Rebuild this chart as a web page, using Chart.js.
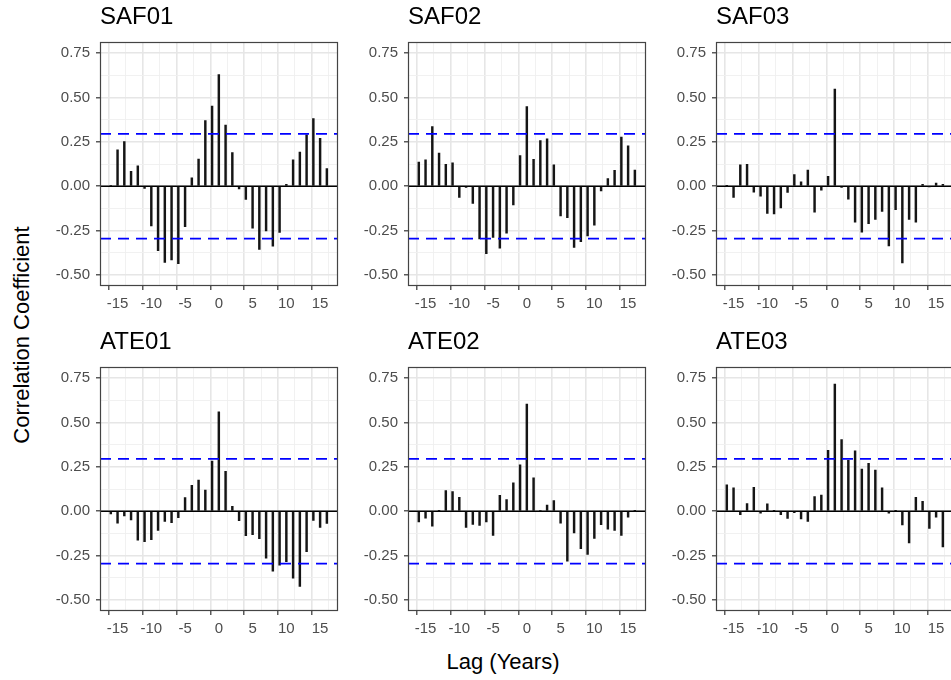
<!DOCTYPE html>
<html>
<head>
<meta charset="utf-8">
<script src="https://cdn.jsdelivr.net/npm/chart.js@4.4.1/dist/chart.umd.min.js"></script>
<style>
  body { margin: 0; background: #fff; }
  #page {
    position: relative; width: 951px; height: 680px; overflow: hidden;
    font-family: "Liberation Sans", Arial, Helvetica, sans-serif; color: #000;
  }
  #page canvas { position: absolute; }
  .ylab {
    position: absolute; left: 22px; top: 335px; font-size: 22px; white-space: nowrap;
    transform: translate(-50%, -50%) rotate(-90deg);
  }
  .xlab {
    position: absolute; left: 503px; top: 662px; font-size: 22px; white-space: nowrap;
    transform: translate(-50%, -50%);
  }
</style>
</head>
<body>
<div id="page">
  <div class="ylab">Correlation Coefficient</div>
  <div class="xlab">Lag (Years)</div>
</div>
<script>
// --- data ---
const lags = [-16, -15, -14, -13, -12, -11, -10, -9, -8, -7, -6, -5, -4, -3, -2, -1,
  0, 1, 2, 3, 4, 5, 6, 7, 8, 9, 10, 11, 12, 13, 14, 15, 16];

const saf01 = [0.005, 0.205, 0.252, 0.084, 0.114, -0.013, -0.224, -0.364, -0.429, -0.416, -0.437, -0.228, 0.047, 0.153, 0.369, 0.451,
  0.629, 0.345, 0.190, -0.015, -0.075, -0.237, -0.356, -0.252, -0.338, -0.261, 0.011, 0.149, 0.192, 0.289, 0.381, 0.269, 0.099];
const saf02 = [0.136, 0.149, 0.336, 0.187, 0.123, 0.132, -0.063, -0.007, -0.097, -0.297, -0.381, -0.289, -0.349, -0.265, -0.106, 0.172,
  0.448, 0.151, 0.257, 0.267, 0.121, -0.168, -0.177, -0.345, -0.313, -0.280, -0.220, -0.026, 0.043, 0.090, 0.276, 0.228, 0.091];
const saf03 = [0.002, -0.063, 0.121, 0.123, -0.034, -0.056, -0.153, -0.157, -0.123, -0.035, 0.065, 0.024, 0.091, -0.146, -0.022, 0.056,
  0.547, -0.007, -0.073, -0.203, -0.259, -0.211, -0.187, -0.142, -0.336, -0.132, -0.433, -0.188, -0.203, 0.011, -0.003, 0.017, 0.010];
const ate01 = [-0.015, -0.067, -0.026, -0.049, -0.164, -0.172, -0.160, -0.108, -0.058, -0.065, -0.037, 0.076, 0.146, 0.175, 0.119, 0.282,
  0.560, 0.224, 0.028, -0.054, -0.138, -0.132, -0.155, -0.265, -0.338, -0.304, -0.285, -0.377, -0.424, -0.228, -0.052, -0.091, -0.069];
const ate02 = [-0.060, -0.039, -0.084, 0.002, 0.116, 0.110, 0.078, -0.091, -0.075, -0.080, -0.060, -0.136, 0.090, 0.065, 0.160, 0.261,
  0.604, 0.188, 0.005, 0.035, 0.060, -0.067, -0.282, -0.123, -0.211, -0.244, -0.153, -0.076, -0.101, -0.108, -0.136, -0.034, 0.002];
const ate03 = [0.149, 0.131, -0.019, 0.043, 0.134, -0.011, 0.041, 0.003, -0.019, -0.041, -0.009, -0.043, -0.058, 0.082, 0.091, 0.343,
  0.716, 0.403, 0.287, 0.340, 0.237, 0.269, 0.231, 0.132, -0.011, 0.003, -0.078, -0.179, 0.078, 0.056, -0.097, -0.034, -0.201];

const panelNames = ['SAF01', 'SAF02', 'SAF03', 'ATE01', 'ATE02', 'ATE03'];
const panelValues = [saf01, saf02, saf03, ate01, ate02, ate03];

const ciBound = 0.295;
const xLimits = [-17.6, 17.6];
const yLimits = [-0.5625, 0.8125];
const xTickValues = [-17.5, -15, -12.5, -10, -7.5, -5, -2.5, 0, 2.5, 5, 7.5, 10, 12.5, 15, 17.5];
const yTickValues = [-0.5, -0.375, -0.25, -0.125, 0, 0.125, 0.25, 0.375, 0.5, 0.625, 0.75];

// --- layout ---
const FONT = '"Liberation Sans", Arial, Helvetica, sans-serif';
const plotLeft = [100, 408, 716];
const plotTop = [42, 367];
const plotW = 238, plotH = 244;
const yAxisW = 60, xAxisH = 30, titleH = 42, padRight = 4;

const isMajorX = v => Math.abs(v) <= 15 && v % 5 === 0;
const isMajorY = v => Math.abs(v * 4 - Math.round(v * 4)) < 1e-9;
const tickVal = c => (c && c.tick) ? c.tick.value : 0;

// theme_bw style box round the panel
const panelBorder = {
  id: 'panelBorder',
  afterDraw(chart) {
    const { ctx, chartArea: a } = chart;
    ctx.save();
    ctx.strokeStyle = '#444444';
    ctx.lineWidth = 1.2;
    ctx.strokeRect(Math.round(a.left) + 0.5, Math.round(a.top) + 0.5,
      Math.round(a.right - a.left) - 1, Math.round(a.bottom - a.top) - 1);
    ctx.restore();
  }
};

function hline(y, color, width, dash, order) {
  return {
    type: 'line',
    data: [{ x: xLimits[0], y: y }, { x: xLimits[1], y: y }],
    borderColor: color,
    borderWidth: width,
    borderDash: dash,
    pointRadius: 0,
    fill: false,
    order: order
  };
}

const page = document.getElementById('page');

panelNames.forEach((name, i) => {
  const col = i % 3, row = Math.floor(i / 3);
  const canvas = document.createElement('canvas');
  canvas.width = yAxisW + plotW + padRight;
  canvas.height = titleH + plotH + xAxisH;
  canvas.style.left = (plotLeft[col] - yAxisW) + 'px';
  canvas.style.top = (plotTop[row] - titleH) + 'px';
  page.appendChild(canvas);

  const values = panelValues[i];

  new Chart(canvas.getContext('2d'), {
    type: 'bar',
    data: {
      datasets: [
        hline(ciBound, '#0000ff', 1.8, [11, 7], 0),
        hline(-ciBound, '#0000ff', 1.8, [11, 7], 0),
        {
          type: 'bar',
          data: lags.map((l, k) => ({ x: l, y: values[k] })),
          backgroundColor: '#151515',
          borderWidth: 0,
          barThickness: 1.8,
          order: 1
        },
        hline(0, '#000000', 1.5, [], 2)
      ]
    },
    options: {
      responsive: false,
      animation: false,
      devicePixelRatio: 1,
      layout: { padding: { left: 0, right: padRight, top: 0, bottom: 0 } },
      plugins: {
        legend: { display: false },
        tooltip: { enabled: false },
        title: {
          display: true,
          text: name,
          align: 'start',
          fullSize: false,
          color: '#000',
          font: { family: FONT, size: 24, weight: 'normal', lineHeight: 1 },
          padding: { top: 5, bottom: 13 }
        }
      },
      scales: {
        x: {
          type: 'linear',
          min: xLimits[0],
          max: xLimits[1],
          offset: false,
          afterBuildTicks: s => { s.ticks = xTickValues.map(v => ({ value: v })); },
          afterFit: s => { s.height = xAxisH; },
          border: { display: false },
          grid: {
            color: c => isMajorX(tickVal(c)) ? '#e6e6e6' : '#efefef',
            lineWidth: c => isMajorX(tickVal(c)) ? 1.6 : 0.9,
            tickColor: c => isMajorX(tickVal(c)) ? '#333333' : 'rgba(0,0,0,0)',
            tickLength: 4,
            tickWidth: 1.2
          },
          ticks: {
            autoSkip: false,
            maxRotation: 0,
            padding: 5,
            color: '#4d4d4d',
            font: { family: FONT, size: 15 },
            callback: v => isMajorX(v) ? String(v) : ''
          }
        },
        y: {
          min: yLimits[0],
          max: yLimits[1],
          afterBuildTicks: s => { s.ticks = yTickValues.map(v => ({ value: v })); },
          afterFit: s => { s.width = yAxisW; },
          border: { display: false },
          grid: {
            color: c => isMajorY(tickVal(c)) ? '#e6e6e6' : '#efefef',
            lineWidth: c => isMajorY(tickVal(c)) ? 1.6 : 0.9,
            tickColor: c => isMajorY(tickVal(c)) ? '#333333' : 'rgba(0,0,0,0)',
            tickLength: 4,
            tickWidth: 1.2
          },
          ticks: {
            padding: 6,
            color: '#4d4d4d',
            font: { family: FONT, size: 15 },
            callback: v => isMajorY(v) ? v.toFixed(2) : ''
          }
        }
      }
    },
    plugins: [panelBorder]
  });
});
</script>
</body>
</html>
